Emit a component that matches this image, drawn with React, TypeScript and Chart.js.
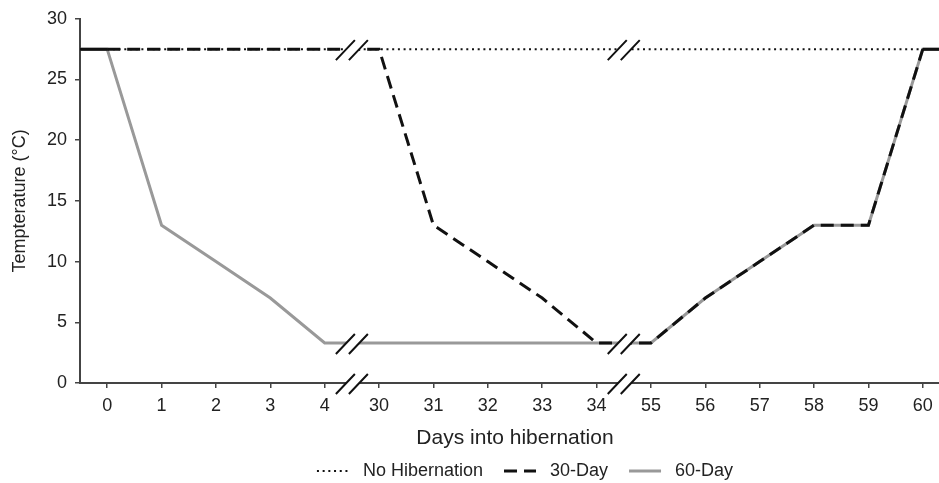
import React, { useEffect, useRef } from "react";
import { Chart, registerables } from "chart.js";

Chart.register(...registerables);

// ---- data ----
const dayLabels = ["0", "1", "2", "3", "4", "30", "31", "32", "33", "34", "55", "56", "57", "58", "59", "60"];
const noHibernation = [27.5, 27.5, 27.5, 27.5, 27.5, 27.5, 27.5, 27.5, 27.5, 27.5, 27.5, 27.5, 27.5, 27.5, 27.5, 27.5];
const thirtyDay = [27.5, 27.5, 27.5, 27.5, 27.5, 27.5, 13, 10, 7, 3.3, 3.3, 7, 10, 13, 13, 27.5];
const sixtyDay = [27.5, 13, 10, 7, 3.3, 3.3, 3.3, 3.3, 3.3, 3.3, 3.3, 7, 10, 13, 13, 27.5];
const seriesNames = ["No Hibernation", "30-Day", "60-Day"];
const yMin = 0;
const yMax = 30;
const yStep = 5;
const xTitle = "Days into hibernation";
const yTitle = "Tempterature (°C)";

const FONT = "'Liberation Sans', Arial, Helvetica, sans-serif";
const TEXT = "#222";
const AXIS = "#444";
const BLACK = "#111";
const GRAY = "#999";

const DOT = [2, 3.7];
const DASH = [13, 7];

const dayNums = dayLabels.map(Number);
const allSeries = [noHibernation, thirtyDay, sixtyDay];

// extend each series horizontally to the plot edges (as in the source figure)
function toPoints(vals: number[]) {
  const pts = vals.map((v, i) => ({ x: i, y: v }));
  return [{ x: -0.5, y: vals[0] }, ...pts, { x: vals.length - 0.5, y: vals[vals.length - 1] }];
}

function segDash(dash: number[], n: number) {
  return (ctx: any) => (ctx.p0DataIndex === 0 || ctx.p1DataIndex === n + 1 ? [] : dash);
}

const decorPlugin = {
  id: "decor",
  afterDraw(chart: any) {
    const { ctx, chartArea, scales } = chart;
    const x = scales.x;
    const y = scales.y;
    ctx.save();
    // axis breaks where consecutive days jump
    const breaks: { idx: number; levels: number[] }[] = [];
    for (let i = 0; i < dayNums.length - 1; i++) {
      if (dayNums[i + 1] - dayNums[i] > 1) {
        const levels: number[] = [yMin];
        allSeries.forEach((s) => {
          if (s[i] === s[i + 1] && !levels.includes(s[i])) levels.push(s[i]);
        });
        breaks.push({ idx: i + 0.5, levels });
      }
    }
    breaks.forEach((b) => {
      const cx = x.getPixelForValue(b.idx);
      b.levels.forEach((lv) => {
        const cy = y.getPixelForValue(lv) + 1;
        const h = 10;
        const w = 9.5;
        const off = 6.5;
        ctx.beginPath();
        ctx.moveTo(cx - off - w, cy + h);
        ctx.lineTo(cx - off + w, cy - h);
        ctx.lineTo(cx + off + w, cy - h);
        ctx.lineTo(cx + off - w, cy + h);
        ctx.closePath();
        ctx.fillStyle = "#fff";
        ctx.fill();
        ctx.strokeStyle = BLACK;
        ctx.lineWidth = 2;
        ctx.setLineDash([]);
        ctx.beginPath();
        ctx.moveTo(cx - off - w, cy + h);
        ctx.lineTo(cx - off + w, cy - h);
        ctx.moveTo(cx + off - w, cy + h);
        ctx.lineTo(cx + off + w, cy - h);
        ctx.stroke();
      });
    });

    // legend
    const styles = [
      { color: BLACK, dash: DOT, width: 2 },
      { color: BLACK, dash: DASH, width: 3 },
      { color: GRAY, dash: [], width: 3 },
    ];
    ctx.font = `18px ${FONT}`;
    const sampleW = 32;
    const gapText = 14;
    const gapItem = 21;
    const widths = seriesNames.map((n) => ctx.measureText(n).width);
    const total = widths.reduce((a, w) => a + sampleW + gapText + w, 0) + gapItem * (seriesNames.length - 1);
    const center = (chartArea.left + chartArea.right) / 2 + 10;
    let lx = center - total / 2;
    const ly = 471;
    seriesNames.forEach((name, i) => {
      const st = styles[i];
      ctx.beginPath();
      ctx.setLineDash(st.dash);
      ctx.lineWidth = st.width;
      ctx.strokeStyle = st.color;
      ctx.moveTo(lx, ly);
      ctx.lineTo(lx + sampleW, ly);
      ctx.stroke();
      ctx.setLineDash([]);
      ctx.fillStyle = TEXT;
      ctx.textBaseline = "middle";
      ctx.textAlign = "left";
      ctx.fillText(name, lx + sampleW + gapText, ly);
      lx += sampleW + gapText + widths[i] + gapItem;
    });
    ctx.restore();
  },
};

export default function App() {
  const ref = useRef<HTMLCanvasElement | null>(null);

  useEffect(() => {
    if (!ref.current) return;
    const n = dayLabels.length;
    const chart = new Chart(ref.current, {
      type: "line",
      data: {
        datasets: [
          {
            label: seriesNames[0],
            data: toPoints(noHibernation),
            borderColor: BLACK,
            borderWidth: 2,
            borderDash: DOT,
            segment: { borderDash: segDash(DOT, n) },
            pointRadius: 0,
            tension: 0,
            fill: false,
          },
          {
            label: seriesNames[1],
            data: toPoints(thirtyDay),
            borderColor: BLACK,
            borderWidth: 3,
            borderDash: DASH,
            segment: { borderDash: segDash(DASH, n) },
            pointRadius: 0,
            tension: 0,
            fill: false,
          },
          {
            label: seriesNames[2],
            data: toPoints(sixtyDay),
            borderColor: GRAY,
            borderWidth: 3,
            pointRadius: 0,
            tension: 0,
            fill: false,
          },
        ],
      },
      options: {
        responsive: false,
        animation: false,
        devicePixelRatio: 1,
        layout: { padding: { top: 15, right: 0, bottom: 0, left: 0 } },
        plugins: { legend: { display: false }, tooltip: { enabled: false } },
        scales: {
          x: {
            type: "linear",
            min: -0.5,
            max: n - 0.5,
            afterBuildTicks: (s: any) => {
              s.ticks = dayLabels.map((_, i) => ({ value: i }));
            },
            afterFit: (s: any) => {
              s.height = 100;
            },
            ticks: {
              autoSkip: false,
              maxRotation: 0,
              padding: 7,
              color: TEXT,
              font: { family: FONT, size: 18 },
              callback: (v: any) => dayLabels[Math.round(Number(v))] ?? "",
            },
            grid: { display: true, drawOnChartArea: false, drawTicks: true, tickLength: 5, color: AXIS, lineWidth: 1.5 },
            border: { display: true, color: AXIS, width: 2 },
            title: {
              display: true,
              text: xTitle,
              color: TEXT,
              font: { family: FONT, size: 21 },
              padding: { top: 0, bottom: 32 },
            },
          },
          y: {
            type: "linear",
            min: yMin,
            max: yMax,
            afterFit: (s: any) => {
              s.width = 80;
            },
            ticks: {
              stepSize: yStep,
              padding: 8,
              color: TEXT,
              font: { family: FONT, size: 18 },
            },
            grid: { display: true, drawOnChartArea: false, drawTicks: true, tickLength: 5, color: AXIS, lineWidth: 1.5 },
            border: { display: true, color: AXIS, width: 2 },
            title: {
              display: true,
              text: yTitle,
              color: TEXT,
              font: { family: FONT, size: 18 },
              padding: { top: 9, bottom: 0 },
            },
          },
        },
      },
      plugins: [decorPlugin],
    } as any);
    return () => chart.destroy();
  }, []);

  return (
    <div style={{ position: "fixed", left: 0, top: 0, width: 939, height: 483, overflow: "hidden", background: "#fff" }}>
      <canvas ref={ref} width={950} height={483} style={{ display: "block", width: 950, height: 483 }} />
    </div>
  );
}
